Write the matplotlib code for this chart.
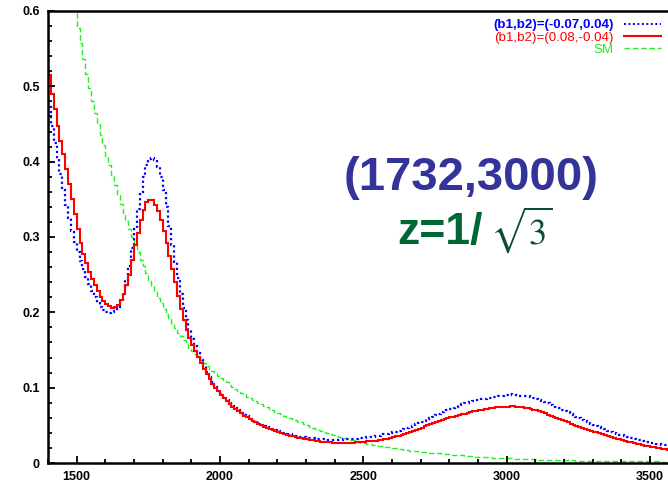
import matplotlib
matplotlib.use("Agg")
import matplotlib.pyplot as plt
from matplotlib.lines import Line2D
from matplotlib.ticker import MultipleLocator, FuncFormatter
import numpy as np

plt.rcParams['font.family'] = ['Liberation Sans', 'DejaVu Sans']

# histogram binning: 10 GeV bins from 1400 to 3600
bin_lo = 1400
bin_hi = 3600
bin_width = 10

# (b1,b2)=(0.08,-0.04), one row per 100 GeV
red_vals = [
    0.515, 0.49, 0.47, 0.447, 0.427, 0.41, 0.39, 0.37, 0.35, 0.33,
    0.31, 0.292, 0.277, 0.265, 0.254, 0.244, 0.236, 0.228, 0.221, 0.215,
    0.211, 0.208, 0.206, 0.207, 0.21, 0.216, 0.224, 0.236, 0.25, 0.27,
    0.29, 0.305, 0.322, 0.336, 0.347, 0.349, 0.349, 0.343, 0.335, 0.322,
    0.308, 0.292, 0.275, 0.257, 0.24, 0.222, 0.205, 0.19, 0.177, 0.166,
    0.157, 0.149, 0.141, 0.133, 0.125, 0.118, 0.111, 0.105, 0.1, 0.095,
    0.09, 0.086, 0.082, 0.078, 0.075, 0.072, 0.069, 0.066, 0.063, 0.061,
    0.058, 0.056, 0.054, 0.052, 0.05, 0.048, 0.0465, 0.045, 0.0435, 0.042,
    0.041, 0.0398, 0.0386, 0.0375, 0.0365, 0.0355, 0.0345, 0.0337, 0.0328, 0.032,
    0.0313, 0.0306, 0.03, 0.0295, 0.029, 0.0285, 0.028, 0.0277, 0.0274, 0.0272,
    0.027, 0.0268, 0.0268, 0.0268, 0.0269, 0.027, 0.0272, 0.0275, 0.0278, 0.028,
    0.0283, 0.0287, 0.029, 0.0293, 0.0296, 0.03, 0.0307, 0.0315, 0.0323, 0.0332,
    0.0342, 0.0352, 0.0362, 0.0373, 0.0385, 0.0398, 0.041, 0.0425, 0.044, 0.0455,
    0.047, 0.0485, 0.05, 0.0515, 0.053, 0.0545, 0.056, 0.0572, 0.0585, 0.0595,
    0.0605, 0.0615, 0.0625, 0.0635, 0.0645, 0.0655, 0.0665, 0.0675, 0.0685, 0.0693,
    0.07, 0.0708, 0.0715, 0.072, 0.0727, 0.0733, 0.0738, 0.0742, 0.0745, 0.0748,
    0.075, 0.0752, 0.0752, 0.075, 0.0745, 0.074, 0.0735, 0.073, 0.072, 0.071,
    0.0698, 0.0685, 0.0672, 0.0658, 0.0643, 0.0628, 0.0613, 0.0598, 0.0583, 0.0568,
    0.0553, 0.0538, 0.0523, 0.0508, 0.0495, 0.0482, 0.0468, 0.0455, 0.0442, 0.043,
    0.0418, 0.0405, 0.0393, 0.0381, 0.037, 0.0358, 0.0347, 0.0336, 0.0325, 0.0314,
    0.0303, 0.0293, 0.0283, 0.0273, 0.0264, 0.0255, 0.0246, 0.0238, 0.023, 0.0223,
    0.0216, 0.0209, 0.0202, 0.0196, 0.019, 0.0184, 0.0178, 0.0172, 0.0167, 0.0162,
]

# (b1,b2)=(-0.07,0.04)
blue_vals = [
    0.472, 0.448, 0.425, 0.403, 0.383, 0.363, 0.343, 0.325, 0.308, 0.293,
    0.28, 0.268, 0.257, 0.247, 0.237, 0.228, 0.22, 0.213, 0.207, 0.203,
    0.2, 0.199, 0.2, 0.202, 0.207, 0.215, 0.227, 0.243, 0.262, 0.285,
    0.31, 0.337, 0.36, 0.38, 0.395, 0.403, 0.405, 0.402, 0.393, 0.38,
    0.362, 0.34, 0.315, 0.29, 0.267, 0.245, 0.225, 0.206, 0.19, 0.176,
    0.165, 0.155, 0.146, 0.137, 0.129, 0.121, 0.114, 0.107, 0.101, 0.096,
    0.092, 0.088, 0.084, 0.08, 0.077, 0.073, 0.07, 0.067, 0.064, 0.062,
    0.059, 0.057, 0.055, 0.053, 0.051, 0.049, 0.0475, 0.046, 0.0447, 0.0435,
    0.0423, 0.0412, 0.0401, 0.039, 0.038, 0.0371, 0.0363, 0.0355, 0.0348, 0.0342,
    0.0336, 0.0331, 0.0326, 0.0322, 0.0318, 0.0315, 0.0313, 0.0311, 0.031, 0.031,
    0.031, 0.031, 0.0311, 0.0312, 0.0314, 0.0316, 0.0319, 0.0322, 0.0326, 0.033,
    0.0334, 0.0339, 0.0344, 0.035, 0.0357, 0.0364, 0.0372, 0.038, 0.0389, 0.0398,
    0.0408, 0.0418, 0.0429, 0.0441, 0.0454, 0.0468, 0.0482, 0.0497, 0.0512, 0.0528,
    0.0545, 0.0562, 0.058, 0.0598, 0.0615, 0.0635, 0.0655, 0.0673, 0.069, 0.0705,
    0.072, 0.0735, 0.075, 0.0765, 0.0778, 0.079, 0.0802, 0.0813, 0.0823, 0.0832,
    0.084, 0.0848, 0.0855, 0.0862, 0.0868, 0.0874, 0.088, 0.0886, 0.0892, 0.0898,
    0.0905, 0.091, 0.0905, 0.09, 0.0895, 0.089, 0.0888, 0.0885, 0.0875, 0.0865,
    0.0852, 0.0838, 0.0823, 0.0808, 0.0792, 0.0776, 0.076, 0.0743, 0.0726, 0.0709,
    0.0692, 0.0672, 0.0652, 0.0632, 0.0612, 0.0593, 0.0575, 0.0557, 0.054, 0.0523,
    0.0506, 0.049, 0.0475, 0.046, 0.0445, 0.0431, 0.0417, 0.0404, 0.0391, 0.0378,
    0.0366, 0.0354, 0.0342, 0.0331, 0.032, 0.031, 0.03, 0.0291, 0.0283, 0.0275,
    0.0268, 0.0261, 0.0254, 0.0248, 0.0242, 0.0236, 0.023, 0.0225, 0.022, 0.0215,
]

# SM
sm_vals = [
    0.88, 0.845, 0.81, 0.775, 0.745, 0.715, 0.685, 0.655, 0.628, 0.603,
    0.578, 0.557, 0.536, 0.517, 0.498, 0.48, 0.465, 0.45, 0.436, 0.422,
    0.408, 0.395, 0.382, 0.369, 0.356, 0.344, 0.332, 0.321, 0.31, 0.3,
    0.29, 0.28, 0.27, 0.261, 0.252, 0.243, 0.235, 0.227, 0.219, 0.212,
    0.205, 0.198, 0.191, 0.185, 0.179, 0.173, 0.168, 0.163, 0.158, 0.153,
    0.149, 0.145, 0.141, 0.137, 0.133, 0.129, 0.125, 0.122, 0.119, 0.116,
    0.113, 0.11, 0.107, 0.104, 0.101, 0.098, 0.096, 0.093, 0.091, 0.088,
    0.086, 0.084, 0.082, 0.08, 0.078, 0.076, 0.074, 0.072, 0.07, 0.068,
    0.066, 0.065, 0.063, 0.061, 0.06, 0.058, 0.057, 0.055, 0.054, 0.052,
    0.05, 0.048, 0.047, 0.045, 0.044, 0.042, 0.041, 0.04, 0.038, 0.037,
    0.036, 0.035, 0.034, 0.033, 0.032, 0.031, 0.03, 0.029, 0.028, 0.0272,
    0.0265, 0.0258, 0.0251, 0.0244, 0.0237, 0.023, 0.0224, 0.0218, 0.0212, 0.0206,
    0.02, 0.0194, 0.0188, 0.0182, 0.0176, 0.017, 0.0165, 0.016, 0.0155, 0.015,
    0.0146, 0.0143, 0.014, 0.0137, 0.0134, 0.0131, 0.0128, 0.0125, 0.0122, 0.0119,
    0.0116, 0.0112, 0.0108, 0.0104, 0.01, 0.0096, 0.0093, 0.009, 0.0087, 0.0084,
    0.0082, 0.008, 0.0078, 0.0076, 0.0074, 0.0072, 0.007, 0.0068, 0.0066, 0.0064,
    0.0062, 0.006, 0.0059, 0.0057, 0.0055, 0.0054, 0.0052, 0.0051, 0.0049, 0.0048,
    0.0047, 0.0046, 0.0045, 0.0044, 0.0043, 0.0042, 0.0041, 0.004, 0.0039, 0.0038,
    0.0037, 0.0036, 0.0035, 0.0034, 0.0033, 0.0032, 0.0031, 0.0031, 0.003, 0.003,
    0.0029, 0.0029, 0.0028, 0.0028, 0.0027, 0.0027, 0.0026, 0.0026, 0.0025, 0.0025,
    0.0024, 0.0024, 0.0023, 0.0023, 0.0022, 0.0022, 0.0022, 0.0021, 0.0021, 0.0021,
    0.002, 0.002, 0.002, 0.0019, 0.0019, 0.0019, 0.0018, 0.0018, 0.0018, 0.0017,
]

labels = ["(b1,b2)=(-0.07,0.04)", "(b1,b2)=(0.08,-0.04)", "SM"]
blue = "#0000ff"
red = "#ff0000"
green = "#22f022"


def main():
    edges = np.arange(bin_lo, bin_hi + bin_width, bin_width)

    fig = plt.figure(figsize=(6.68, 4.87), dpi=100)
    # the original is cropped on the right, so the axes run past the figure edge
    ax = fig.add_axes([48 / 668, 24 / 487, (678.7 - 48) / 668, 452 / 487])

    ax.stairs(sm_vals, edges, color=green, lw=1.0, ls=(0, (4, 2)))
    ax.stairs(blue_vals, edges, color=blue, lw=1.6, ls=(0, (1, 1.3)))
    ax.stairs(red_vals, edges, color=red, lw=1.5)

    ax.set_xlim(bin_lo, bin_hi)
    ax.set_ylim(0, 0.6)
    ax.xaxis.set_major_locator(MultipleLocator(500))
    ax.xaxis.set_minor_locator(MultipleLocator(100))
    ax.yaxis.set_major_locator(MultipleLocator(0.1))
    ax.yaxis.set_minor_locator(MultipleLocator(0.02))
    ax.yaxis.set_major_formatter(FuncFormatter(lambda v, p: "%g" % round(v, 2)))
    ax.tick_params(which="both", direction="in", top=False, right=False, width=1.3)
    ax.tick_params(which="major", length=5, pad=6, labelsize=9)
    ax.tick_params(which="minor", length=3)
    for lab in ax.get_xticklabels() + ax.get_yticklabels():
        lab.set_fontweight("bold")
    for side in ["left", "bottom", "top"]:
        ax.spines[side].set_linewidth(1.8)

    handles = [
        Line2D([], [], color=blue, lw=1.4, ls=(0, (1, 1.3))),
        Line2D([], [], color=red, lw=1.5),
        Line2D([], [], color=green, lw=1.0, ls=(0, (4, 2))),
    ]
    leg = ax.legend(handles, labels, loc="upper right",
                    bbox_to_anchor=(661 / 668, 1 - 19 / 487),
                    bbox_transform=fig.transFigure, frameon=False,
                    markerfirst=False, fontsize=9.6, handlelength=2.8,
                    handletextpad=0.75, labelspacing=0.0, borderpad=0,
                    borderaxespad=0, labelcolor="linecolor")
    leg.get_texts()[0].set_fontweight("bold")

    fig.text(471 / 668, 1 - 190 / 487, "(1732,3000)", ha="center",
             va="baseline", fontsize=34, fontweight="bold", color="#333399")
    fig.text(397 / 668, 1 - 244 / 487, "z=1/", ha="left", va="baseline",
             fontsize=32, fontweight="bold", color="#006633")
    fig.text(490 / 668, 1 - 244 / 487, r"$\sqrt{3}$", ha="left",
             va="baseline", fontsize=26, math_fontfamily="stix",
             color="#0b4d3b")

    fig.savefig("out.png", dpi=100)


if __name__ == "__main__":
    main()
